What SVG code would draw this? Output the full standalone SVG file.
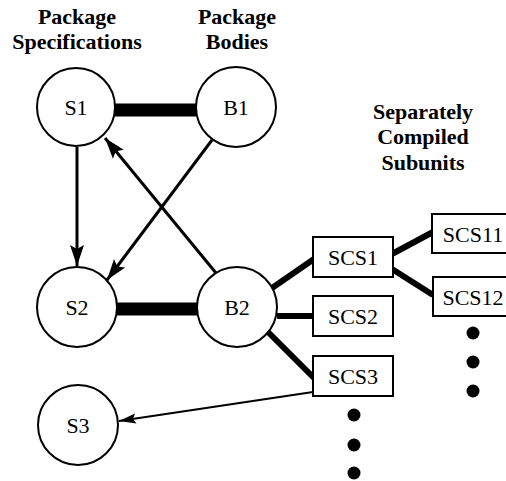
<svg xmlns="http://www.w3.org/2000/svg" width="506" height="481" viewBox="0 0 506 481">
  <style>
    .hdr { font-family: "Liberation Serif", "Times New Roman", Times, "DejaVu Serif", serif; font-weight: bold; font-size: 22px; text-anchor: middle; fill: #000; }
    .lbl { font-family: "Liberation Serif", "Times New Roman", Times, "DejaVu Serif", serif; font-size: 22px; text-anchor: middle; fill: #000; }
    .node circle { fill: #fff; stroke: #000; stroke-width: 2; }
    .node rect { fill: #fff; stroke: #000; stroke-width: 2; }
    .bond { stroke: #000; stroke-width: 13; fill: none; }
    .link { stroke: #000; stroke-width: 6; fill: none; }
    .dep { stroke: #000; stroke-width: 3; fill: none; }
    .dep-thin { stroke: #000; stroke-width: 2; fill: none; }
    .dot { fill: #000; }
  </style>
  <defs>
    <marker id="head" markerUnits="userSpaceOnUse" markerWidth="22" markerHeight="16" viewBox="0 0 22 16" refX="21" refY="8" orient="auto">
      <path d="M0,1 L21,8 L0,15 L4,8 Z" fill="#000"/>
    </marker>
    <marker id="head-small" markerUnits="userSpaceOnUse" markerWidth="18" markerHeight="12" viewBox="0 0 18 12" refX="17" refY="6" orient="auto">
      <path d="M0,1 L17,6 L0,11 L3,6 Z" fill="#000"/>
    </marker>
  </defs>

  <!-- column headings -->
  <g id="headings">
    <text class="hdr" x="77" y="24">Package</text>
    <text class="hdr" x="77" y="49">Specifications</text>
    <text class="hdr" x="237" y="24">Package</text>
    <text class="hdr" x="237" y="49">Bodies</text>
    <text class="hdr" x="423" y="119">Separately</text>
    <text class="hdr" x="423" y="144">Compiled</text>
    <text class="hdr" x="423" y="170">Subunits</text>
  </g>

  <!-- connectors -->
  <g id="connectors">
    <line class="bond" x1="114" y1="110" x2="198" y2="110"/>
    <line class="bond" x1="115" y1="309" x2="199" y2="309"/>
    <line class="dep" x1="77" y1="147" x2="77" y2="266" marker-end="url(#head)"/>
    <line class="dep" x1="212" y1="140" x2="107" y2="280" marker-end="url(#head)"/>
    <line class="dep" x1="216" y1="273" x2="105" y2="138" marker-end="url(#head)"/>
    <line class="link" x1="272" y1="288" x2="314" y2="259"/>
    <line class="link" x1="277" y1="316" x2="314" y2="316"/>
    <line class="link" x1="267" y1="331" x2="314" y2="378"/>
    <line class="link" x1="392" y1="254" x2="433" y2="232"/>
    <line class="link" x1="392" y1="269" x2="433" y2="295"/>
    <line class="dep-thin" x1="313" y1="392" x2="119" y2="421" marker-end="url(#head-small)"/>
  </g>

  <g id="S1" class="node">
    <circle cx="76" cy="107" r="39"/>
    <text class="lbl" x="76" y="115">S1</text>
  </g>
  <g id="B1" class="node">
    <circle cx="236" cy="107" r="40"/>
    <text class="lbl" x="236" y="115">B1</text>
  </g>
  <g id="S2" class="node">
    <circle cx="77" cy="307" r="40"/>
    <text class="lbl" x="77" y="315">S2</text>
  </g>
  <g id="B2" class="node">
    <circle cx="237" cy="307" r="40"/>
    <text class="lbl" x="237" y="315">B2</text>
  </g>
  <g id="S3" class="node">
    <circle cx="78" cy="425" r="40"/>
    <text class="lbl" x="78" y="433">S3</text>
  </g>

  <g id="SCS1" class="node">
    <rect x="313" y="237" width="80" height="40"/>
    <text class="lbl" x="353" y="265">SCS1</text>
  </g>
  <g id="SCS2" class="node">
    <rect x="313" y="296" width="80" height="40"/>
    <text class="lbl" x="353" y="324">SCS2</text>
  </g>
  <g id="SCS3" class="node">
    <rect x="313" y="356" width="80" height="40"/>
    <text class="lbl" x="353" y="384">SCS3</text>
  </g>
  <g id="SCS11" class="node">
    <rect x="432" y="214" width="84" height="39"/>
    <text class="lbl" x="473" y="242">SCS11</text>
  </g>
  <g id="SCS12" class="node">
    <rect x="433" y="277" width="84" height="39"/>
    <text class="lbl" x="473" y="305">SCS12</text>
  </g>

  <!-- continuation marks -->
  <g id="more-subunits">
    <circle class="dot" cx="354" cy="415" r="6.5"/>
    <circle class="dot" cx="354" cy="445" r="6.5"/>
    <circle class="dot" cx="354" cy="473" r="6.5"/>
    <circle class="dot" cx="473" cy="333" r="6.5"/>
    <circle class="dot" cx="473" cy="362" r="6.5"/>
    <circle class="dot" cx="473" cy="391" r="6.5"/>
  </g>
</svg>
